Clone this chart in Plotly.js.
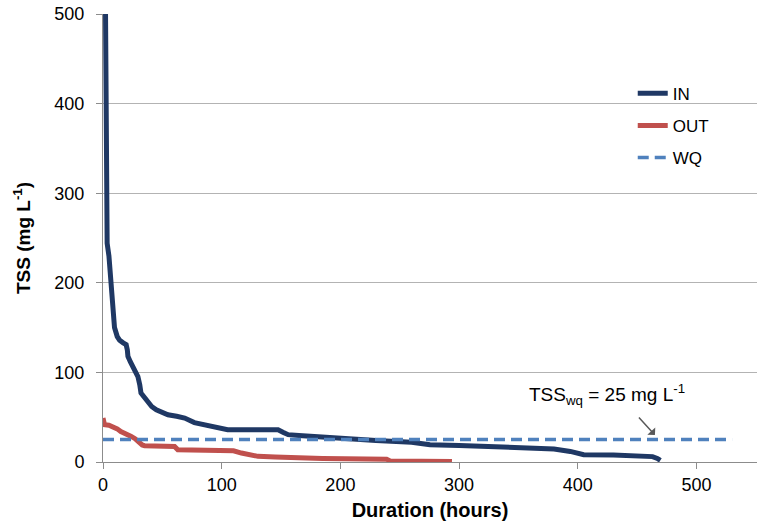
<!DOCTYPE html>
<html>
<head>
<meta charset="utf-8">
<script src="https://cdn.plot.ly/plotly-3.0.1.min.js"></script>
<style>html,body{margin:0;padding:0;background:#fff;}#chart{width:758px;height:527px;}</style>
</head>
<body>
<div id="chart"></div>
<script>
// Duration curve data (hours, mg/L)
const inHours = [0, 1, 1.9, 2.3, 2.7, 3.5, 5, 6, 7, 8, 9.7, 12, 14, 17, 19.5, 20.5, 21, 23, 25, 27, 29.4, 31, 32, 35, 37.8, 41, 44.9, 50, 54.7, 62, 68.8, 77, 85, 91, 98, 105, 120, 135, 147.5, 152, 156, 165, 175.7, 190, 201, 230, 260, 275.5, 300, 330, 360, 380, 393.7, 400, 405, 430, 450, 458, 463, 467, 469.6];
const inTSS   = [900, 650, 500, 350, 250, 244, 230, 215, 195, 181, 150, 140, 136, 133, 131, 125, 118, 112, 106.6, 101, 95.4, 86, 77, 72, 67.6, 62, 58.3, 55, 52.7, 51, 49, 44, 42, 39.7, 37.5, 36, 36, 36, 36, 33, 30.5, 29.5, 28.5, 27, 25.6, 24, 22, 19.3, 18.5, 17.5, 15.6, 14.5, 11.8, 9.5, 8.1, 7.8, 7.5, 7, 6, 4, 1.8];

const outHours = [0, 0.8, 1.3, 5, 8.3, 12, 15, 18, 21, 23.8, 27, 30, 33, 35, 45, 60.3, 63, 85, 105, 110, 116.6, 124, 130.6, 145, 161.6, 185, 203.8, 225, 239, 242, 270, 294];
const outTSS   = [49, 45, 41.6, 41, 39.7, 37, 34, 32.3, 31, 28.5, 26, 22, 19, 18.2, 17.8, 17.4, 13.7, 13.4, 13, 12.5, 10, 8, 6.3, 5.5, 4.5, 4, 3.5, 3.2, 3, 1.2, 0.9, 0.6];

const wqHours = [0, 530];
const wqTSS   = [25, 25];

const xTicks = [0, 100, 200, 300, 400, 500];
const yTicks = [0, 100, 200, 300, 400, 500];

const FONT = 'Arial, "Liberation Sans", sans-serif';

const traces = [
  {x: inHours, y: inTSS, name: 'IN', type: 'scatter', mode: 'lines', legendgroup: 'a',
   line: {color: '#1F3864', width: 5}},
  {x: outHours, y: outTSS, name: 'OUT', type: 'scatter', mode: 'lines', legendgroup: 'b',
   line: {color: '#C0504D', width: 5}},
  {x: wqHours, y: wqTSS, name: 'WQ', type: 'scatter', mode: 'lines', legendgroup: 'c',
   line: {color: '#4F81BD', width: 3.5, dash: '11px,6px'}}
];

const layout = {
  width: 758, height: 527,
  margin: {l: 103, r: 1, t: 14, b: 65},
  paper_bgcolor: '#ffffff', plot_bgcolor: '#ffffff',
  font: {family: FONT, size: 18, color: '#000'},
  showlegend: true,
  legend: {x: 0.81, y: 0.862, xanchor: 'left', yanchor: 'top', bgcolor: 'rgba(0,0,0,0)',
           font: {family: FONT, size: 17, color: '#000'}, tracegroupgap: 7},
  xaxis: {
    range: [0, 551], tickvals: xTicks, ticktext: xTicks.map(String),
    showgrid: false, zeroline: false, showline: true, linecolor: '#8c8c8c', linewidth: 1,
    ticks: 'outside', ticklen: 6, tickcolor: '#8c8c8c',
    tickfont: {family: FONT, size: 18, color: '#000'},
    title: {text: '<b>Duration (hours)</b>', font: {family: FONT, size: 20, color: '#000'}, standoff: 9}
  },
  yaxis: {
    range: [0, 500], tickvals: yTicks, ticktext: yTicks.map(String),
    showgrid: true, gridcolor: '#b3b3b3', gridwidth: 1, zeroline: false,
    showline: true, linecolor: '#8c8c8c', linewidth: 1,
    ticks: 'outside', ticklen: 6, tickcolor: '#8c8c8c', ticklabelstandoff: 8,
    tickfont: {family: FONT, size: 18, color: '#000'},
    title: {text: '<b>TSS (mg L<sup>-1</sup>)</b>', font: {family: FONT, size: 19, color: '#000'}, standoff: 18}
  },
  annotations: [
    {x: 425, y: 75, xref: 'x', yref: 'y', showarrow: false,
     text: 'TSS<sub>wq</sub> = 25 mg L<sup>-1</sup>', font: {family: FONT, size: 19, color: '#000'}},
    {x: 465, y: 30, xref: 'x', yref: 'y', showarrow: true, ax: -20, ay: -22, text: ' ',
     arrowhead: 1, arrowsize: 1.2, arrowwidth: 1.5, arrowcolor: '#595959'}
  ]
};

Plotly.newPlot('chart', traces, layout, {displayModeBar: false, staticPlot: true});
</script>
</body>
</html>
